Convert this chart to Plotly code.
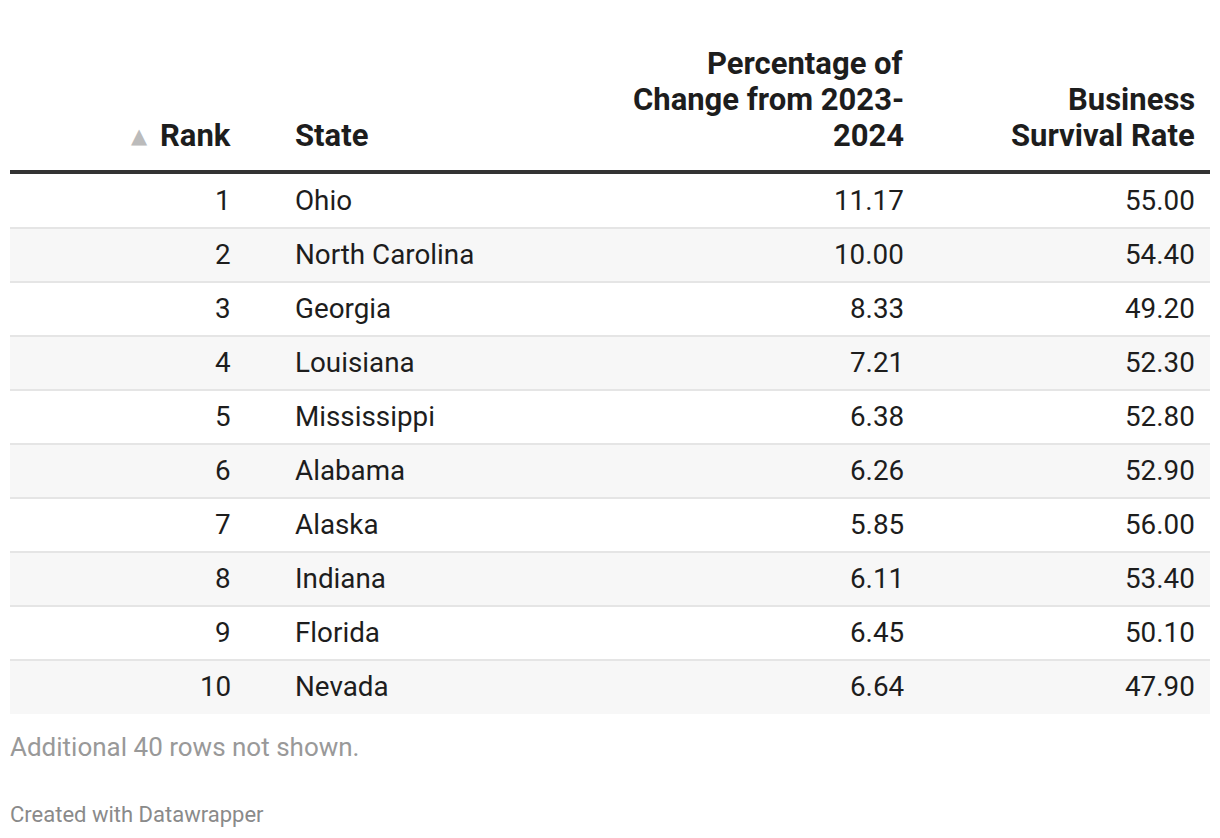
import plotly.graph_objects as go

# ---- data ----
ranks = [1, 2, 3, 4, 5, 6, 7, 8, 9, 10]
states = ["Ohio", "North Carolina", "Georgia", "Louisiana", "Mississippi",
          "Alabama", "Alaska", "Indiana", "Florida", "Nevada"]
pct_change = [11.17, 10.00, 8.33, 7.21, 6.38, 6.26, 5.85, 6.11, 6.45, 6.64]
survival_rate = [55.00, 54.40, 49.20, 52.30, 52.80, 52.90, 56.00, 53.40, 50.10, 47.90]
headers = [["Rank"], ["State"], ["Percentage of", "Change from 2023-", "2024"],
           ["Business", "Survival Rate"]]
note = "Additional 40 rows not shown."
credit = "Created with Datawrapper"

# ---- layout constants (page pixel coordinates) ----
W, H = 1220, 838
OFF = 8  # default page body margin
LEFT, RIGHT = 10, 1210
HEADER_LINE_Y = 172
ROW_TOP = 174
ROW_H = 54
HEADER_BASE = 147
HEADER_LH = 36
FONT = "Roboto, Arial, sans-serif"
TXT = "#1d1d1d"
col_x = [233, 293, 906, 1197]
col_anchor = ["right", "left", "right", "right"]

fig = go.Figure()
shapes = []
annotations = []

# row backgrounds and separators
for i in range(len(ranks)):
    y0 = ROW_TOP + i * ROW_H
    y1 = y0 + ROW_H
    if i % 2 == 1:
        shapes.append(dict(type="rect", x0=LEFT, x1=RIGHT, y0=y0, y1=y1,
                           fillcolor="#f7f7f7", line=dict(width=0), layer="below"))
    if i < len(ranks) - 1:
        shapes.append(dict(type="line", x0=LEFT, x1=RIGHT, y0=y1, y1=y1,
                           line=dict(color="#e5e5e5", width=2), layer="above"))

# header line
shapes.append(dict(type="line", x0=LEFT, x1=RIGHT, y0=HEADER_LINE_Y, y1=HEADER_LINE_Y,
                   line=dict(color="#333333", width=4), layer="above"))

# headers (each line placed separately, bottom-aligned)
for lines, x, a in zip(headers, col_x, col_anchor):
    n = len(lines)
    for j, line in enumerate(lines):
        base = HEADER_BASE - (n - 1 - j) * HEADER_LH
        annotations.append(dict(x=x, y=base + 9, text=f"<b>{line}</b>", xanchor=a,
                                yanchor="bottom", showarrow=False,
                                font=dict(family=FONT, size=31, color=TXT)))
# sort indicator
annotations.append(dict(x=150, y=136, text="▲", xanchor="right", yanchor="middle",
                        showarrow=False, font=dict(family="DejaVu Sans", size=21, color="#bbbbbb")))

# rows
for i in range(len(ranks)):
    yc = ROW_TOP + i * ROW_H + ROW_H / 2 - 1
    cells = [str(ranks[i]), states[i], f"{pct_change[i]:.2f}", f"{survival_rate[i]:.2f}"]
    for c, x, a in zip(cells, col_x, col_anchor):
        annotations.append(dict(x=x, y=yc, text=c, xanchor=a, yanchor="middle",
                                showarrow=False,
                                font=dict(family=FONT, size=27.8, color=TXT)))

# notes
annotations.append(dict(x=LEFT - 2, y=747, text=note, xanchor="left", yanchor="middle",
                        showarrow=False, font=dict(family=FONT, size=26, color="#999999")))
annotations.append(dict(x=LEFT - 2, y=814, text=credit, xanchor="left", yanchor="middle",
                        showarrow=False, font=dict(family=FONT, size=22, color="#8a8a8a")))

fig.update_layout(
    width=W - 2 * OFF, height=H - 2 * OFF,
    margin=dict(l=0, r=0, t=0, b=0),
    paper_bgcolor="white", plot_bgcolor="white",
    xaxis=dict(range=[OFF, W - OFF], visible=False, fixedrange=True),
    yaxis=dict(range=[H - OFF, OFF], visible=False, fixedrange=True),
    shapes=shapes, annotations=annotations,
    showlegend=False,
)

fig.write_html("out.html", config={"displayModeBar": False})
